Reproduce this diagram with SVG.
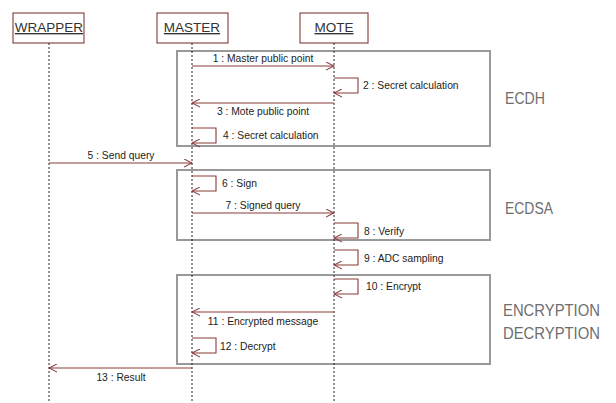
<svg xmlns="http://www.w3.org/2000/svg" width="616" height="403" viewBox="0 0 616 403">
<defs>
<marker id="arr" viewBox="0 0 10 10" refX="9" refY="5" markerWidth="9" markerHeight="9" markerUnits="userSpaceOnUse" orient="auto">
<path d="M0,0.5 L9,5 L0,9.5" fill="none" stroke="#8b3a3a" stroke-width="1.2"/>
</marker>
</defs>
<style>
.hdr{fill:#fff;stroke:#8b4a4a;stroke-width:1.2}
.ht{font-family:"Liberation Sans",Arial,sans-serif;font-size:13.5px;fill:#333;text-decoration:underline;text-anchor:middle}
.life{stroke:#222;stroke-width:1;stroke-dasharray:2,2}
.frame{fill:none;stroke:#999;stroke-width:2}
.msg{fill:none;stroke:#8b3a3a;stroke-width:1.1;marker-end:url(#arr)}
.ml{font-family:"Liberation Sans",Arial,sans-serif;font-size:10.3px;fill:#222}
.mc{text-anchor:middle}
.big{font-family:"Liberation Sans",Arial,sans-serif;font-size:16.5px;fill:#6e6e6e}
</style>
<rect width="616" height="403" fill="#fff"/>
<g id="frames">
<rect class="frame" x="177" y="51" width="313" height="95"/>
<rect class="frame" x="177" y="170" width="313" height="70"/>
<rect class="frame" x="177" y="275" width="313" height="89"/>
<text class="big" x="505" y="104" textLength="40" lengthAdjust="spacingAndGlyphs">ECDH</text>
<text class="big" x="505" y="214" textLength="48" lengthAdjust="spacingAndGlyphs">ECDSA</text>
<text class="big" x="503" y="316" textLength="97" lengthAdjust="spacingAndGlyphs">ENCRYPTION</text>
<text class="big" x="503" y="339" textLength="97" lengthAdjust="spacingAndGlyphs">DECRYPTION</text>
</g>
<g id="wrapper">
<rect class="hdr" x="13" y="13" width="71" height="30"/>
<text class="ht" x="49" y="32">WRAPPER</text>
<line class="life" x1="49" y1="43" x2="49" y2="403"/>
</g>
<g id="master">
<rect class="hdr" x="157" y="13" width="71" height="30"/>
<text class="ht" x="192" y="32">MASTER</text>
<line class="life" x1="192" y1="43" x2="192" y2="403"/>
</g>
<g id="mote">
<rect class="hdr" x="300" y="13" width="68" height="30"/>
<text class="ht" x="334" y="32">MOTE</text>
<line class="life" x1="334" y1="43" x2="334" y2="403"/>
</g>
<g id="connectors">
<path class="msg" d="M192,66 H334"/>
<text class="ml mc" x="263" y="62">1 : Master public point</text>
<path class="msg" d="M334,78 H358 V93 H334"/>
<text class="ml" x="363" y="89">2 : Secret calculation</text>
<path class="msg" d="M334,103 H192"/>
<text class="ml mc" x="263" y="115">3 : Mote public point</text>
<path class="msg" d="M192,128 H216 V143 H192"/>
<text class="ml" x="223" y="139">4 : Secret calculation</text>
<path class="msg" d="M49,163 H192"/>
<text class="ml mc" x="121" y="159">5 : Send query</text>
<path class="msg" d="M192,176 H216 V191 H192"/>
<text class="ml" x="222" y="187">6 : Sign</text>
<path class="msg" d="M192,213 H334"/>
<text class="ml mc" x="263" y="209">7 : Signed query</text>
<path class="msg" d="M334,223 H358 V238 H334"/>
<text class="ml" x="364" y="235">8 : Verify</text>
<path class="msg" d="M334,250 H358 V265 H334"/>
<text class="ml" x="364" y="262">9 : ADC sampling</text>
<path class="msg" d="M334,279 H358 V294 H334"/>
<text class="ml" x="366" y="290">10 : Encrypt</text>
<path class="msg" d="M334,312 H192"/>
<text class="ml mc" x="263" y="325">11 : Encrypted message</text>
<path class="msg" d="M192,338 H216 V353 H192"/>
<text class="ml" x="220" y="350">12 : Decrypt</text>
<path class="msg" d="M192,368 H49"/>
<text class="ml mc" x="121" y="381">13 : Result</text>
</g>
</svg>
